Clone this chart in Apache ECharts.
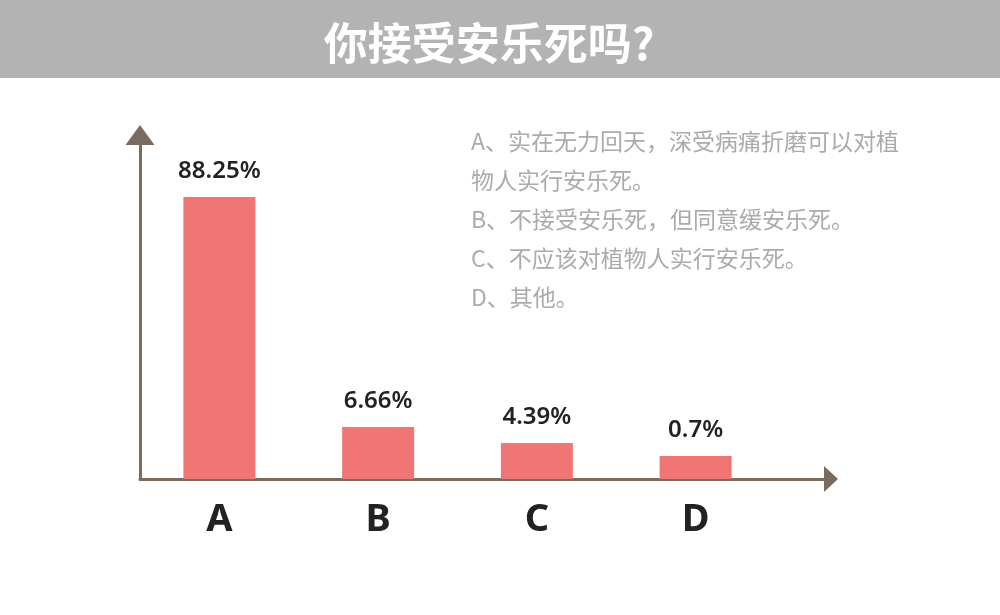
<!DOCTYPE html>
<html>
<head>
<meta charset="utf-8">
<script src="https://cdn.jsdelivr.net/npm/echarts@6/dist/echarts.min.js"></script>
<style>
html,body{margin:0;padding:0;background:#fff;}
#chart{width:1000px;height:615px;}
</style>
</head>
<body>
<div id="chart"></div>
<script>
// ---- data ----
const titleText = '你接受安乐死吗?';
const categories = ['A', 'B', 'C', 'D'];
const values = [88.25, 6.66, 4.39, 0.7];          // shown percentages
const barHeights = [100, 18.4, 12.8, 8.2];         // drawn bar heights (relative)
const notes = [
  'A、实在无力回天，深受病痛折磨可以对植',
  '物人实行安乐死。',
  'B、不接受安乐死，但同意缓安乐死。',
  'C、不应该对植物人实行安乐死。',
  'D、其他。'
];

const axisColor = '#7b6b5e';
const chart = echarts.init(document.getElementById('chart'));

const graphics = [
  { type: 'rect', left: 0, top: 0, shape: { width: 1000, height: 78 }, style: { fill: '#b3b3b3' }, silent: true },
  { type: 'text', x: 489, y: 43, style: {
      text: titleText, fill: '#ffffff', font: 'bold 44px "Noto Sans CJK SC"',
      textAlign: 'center', textVerticalAlign: 'middle' } }
];
notes.forEach((t, i) => {
  graphics.push({ type: 'text', x: 471, y: 141 + i * 39, style: {
    text: t, fill: '#ababab', font: '23px "Noto Sans CJK SC"',
    textAlign: 'left', textVerticalAlign: 'middle' } });
});

chart.setOption({
  animation: false,
  backgroundColor: '#ffffff',
  graphic: graphics,
  grid: [
    { left: 140, right: 225, top: 135, bottom: 136 },
    { left: 140, right: 169, top: 135, bottom: 136 }
  ],
  xAxis: [
    { type: 'category', gridIndex: 0, data: categories,
      axisLine: { show: false }, axisTick: { show: false },
      axisLabel: { color: '#222', fontSize: 38, fontWeight: 'bold', fontFamily: '"Noto Sans"', margin: 22 } },
    { type: 'value', gridIndex: 1, min: 0, max: 1,
      axisLine: { show: true, lineStyle: { color: axisColor, width: 3 }, symbol: ['none', 'triangle'], symbolSize: [26, 14] },
      axisTick: { show: false }, axisLabel: { show: false }, splitLine: { show: false } }
  ],
  yAxis: [
    { type: 'value', gridIndex: 0, min: 0, max: 122,
      axisLine: { show: true, lineStyle: { color: axisColor, width: 3 }, symbol: ['none', 'triangle'], symbolSize: [29, 20] },
      axisTick: { show: false }, axisLabel: { show: false }, splitLine: { show: false } },
    { type: 'value', gridIndex: 1, show: false, min: 0, max: 1 }
  ],
  series: [{
    type: 'bar', xAxisIndex: 0, yAxisIndex: 0,
    data: barHeights.map((h, i) => ({ value: h, label: { formatter: values[i] + '%' } })),
    barWidth: 72,
    itemStyle: { color: '#f07575' },
    label: { show: true, position: 'top', distance: 14, color: '#222', fontSize: 24,
             fontFamily: '"Noto Sans"', fontWeight: 600 },
    z: 3
  }]
});
</script>
</body>
</html>
